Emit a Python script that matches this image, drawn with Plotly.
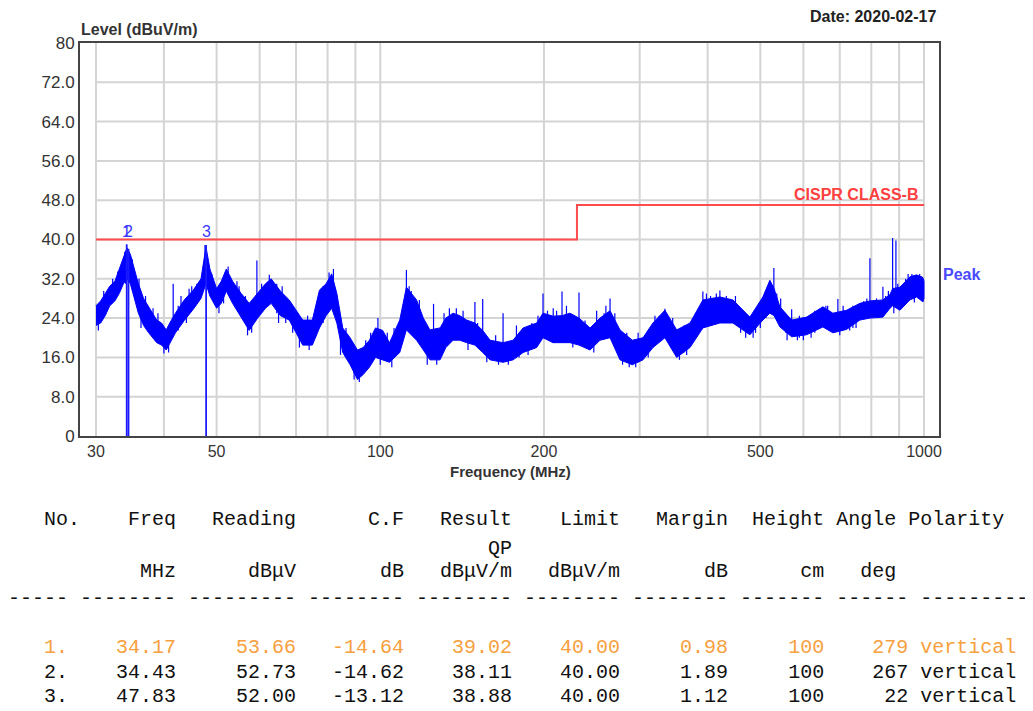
import numpy as np
import plotly.graph_objects as go

# ---------------- data ----------------
# noisy Peak trace: frequency (MHz) with lower / upper edge of the band (dBuV/m)
freq = [30.0, 30.6, 31.2, 31.8, 32.5, 33.1, 33.7, 34.2, 34.7, 35.3, 35.9, 36.7, 37.5, 38.8, 39.6,
        40.4, 41.0, 42.0, 43.6, 45.3, 46.8, 47.8, 48.6, 50.0, 51.0, 52.1, 53.5, 55.5, 57.4, 59.5,
        61.5, 63.0, 65.5, 68.0, 70.0, 72.0, 75.0, 77.3, 79.5, 81.4, 83.2, 85.3, 88.0, 90.8, 93.0,
        95.5, 98.0, 101.0, 104.0, 108.6, 111.7, 116.6, 120.0, 123.4, 128.8, 132.0, 136.1, 140.0,
        144.2, 149.3, 154.3, 159.2, 168.2, 175.5, 183.1, 193.9, 199.2, 207.8, 215.9, 223.3, 232.0,
        243.1, 253.6, 264.6, 276.0, 290.8, 304.2, 317.3, 333.8, 350.9, 371.2, 392.1, 421.3, 445.1,
        478.4, 505.4, 520.6, 530.0, 543.2, 571.0, 608.2, 651.7, 679.9, 720.5, 762.3, 795.3, 840.3,
        865.7, 875.6, 903.1, 942.1, 969.3, 995.7, 1000.0]
peak_lo = [22.5, 23.0, 24.5, 26.5, 27.5, 29.0, 31.0, 32.0, 31.0, 28.0, 25.0, 22.5, 21.0, 19.0, 18.5,
           17.5, 19.0, 21.0, 23.5, 25.8, 28.0, 31.0, 28.5, 26.0, 27.0, 29.5, 27.0, 24.0, 21.5, 24.0,
           26.0, 27.0, 24.5, 23.6, 21.0, 18.5, 18.5, 22.0, 24.5, 26.0, 23.0, 17.0, 14.5, 11.5, 12.5,
           14.0, 16.0, 15.5, 15.0, 17.0, 21.6, 19.5, 17.5, 15.5, 15.5, 18.0, 19.5, 19.5,
           19.0, 18.5, 17.0, 15.5, 15.0, 15.5, 17.0, 18.0, 20.0, 19.0, 19.0, 19.0, 18.5,
           17.5, 19.5, 20.0, 15.5, 14.5, 15.5, 18.0, 20.0, 16.0, 18.0, 22.0, 23.0, 23.0,
           20.6, 23.6, 25.0, 24.5, 22.2, 20.2, 20.6, 22.2, 21.0, 21.7, 23.6, 24.0, 24.2,
           26.0, 26.5, 25.6, 27.7, 28.3, 27.3, 28.0]
peak_hi = [26.5, 27.5, 29.0, 30.5, 31.5, 34.0, 36.0, 38.3, 37.0, 34.0, 31.0, 28.0, 26.3, 23.6, 23.0,
           21.6, 23.0, 25.0, 27.7, 29.7, 32.0, 38.5, 34.0, 30.0, 31.5, 34.0, 31.5, 29.0, 27.0, 29.0,
           31.0, 32.0, 29.5, 27.7, 25.5, 23.6, 23.6, 29.7, 31.0, 33.0, 29.0, 22.0, 20.0, 17.5, 18.0,
           19.5, 22.0, 21.5, 19.0, 23.6, 30.3, 27.7, 24.0, 21.6, 22.0, 24.0, 25.0, 24.5,
           23.6, 23.0, 21.5, 19.5, 19.0, 19.5, 22.0, 23.0, 25.0, 24.4, 24.5, 25.0, 24.0,
           22.0, 24.0, 25.5, 21.6, 19.5, 20.0, 23.0, 25.6, 21.6, 23.0, 27.7, 28.3, 27.7,
           24.2, 28.3, 31.7, 30.0, 26.3, 23.6, 24.2, 26.3, 25.0, 25.6, 27.0, 27.5, 27.7,
           28.8, 30.0, 30.3, 32.4, 32.8, 32.2, 31.5]

# isolated spikes of the Peak trace (up and down): frequency, one end and other end (dBuV/m)
spike_freq = [31.0, 32.9, 33.9, 35.0, 36.0, 37.0, 38.2, 39.0, 41.6, 43.0, 44.5, 46.0, 47.6, 49.0,
              52.5, 54.5, 56.5, 59.3, 62.5, 64.5, 67.0, 73.5, 78.5, 80.5, 86.5, 96.0, 99.0, 103.0,
              106.0, 111.7, 114.0, 118.0, 125.3, 134.0, 142.0, 149.3, 154.3, 163.0, 168.2, 180.0,
              190.0, 199.2, 203.0, 211.0, 215.9, 220.0, 232.0, 238.0, 258.0, 264.6, 270.0, 284.0,
              298.0, 311.0, 326.0, 333.8, 342.0, 362.0, 380.0, 392.0, 405.0, 421.3, 433.0, 460.0,
              490.0, 512.0, 529.5, 536.0, 557.0, 571.0, 590.0, 630.0, 665.0, 694.4, 740.0, 775.0,
              795.3, 818.0, 840.3, 860.0, 875.6, 887.9, 910.0, 925.0, 950.0, 977.0, 990.0,
              30.3, 36.3, 40.0, 40.8, 44.0, 50.5, 57.0, 58.0, 65.0, 69.0, 71.0, 74.0, 84.5, 89.5,
              91.5, 100.0, 105.0, 122.0, 127.0, 145.0, 157.0, 165.0, 172.0, 187.0, 226.0, 247.0,
              279.0, 287.0, 295.0, 340.0, 355.0, 366.0, 470.0, 485.0, 560.0, 585.0, 600.0, 620.0,
              700.0, 730.0, 880.0, 960.0,
              32.2, 34.0, 38.0, 42.5, 45.0, 51.5, 55.0, 60.5, 66.0, 76.0, 82.0, 94.0, 109.5,
              113.0, 131.0, 138.0, 151.0, 178.0, 195.0, 208.0, 250.0, 260.0, 320.0, 345.0,
              398.0, 415.0, 450.0, 500.0, 517.0, 545.0, 620.0, 660.0, 710.0, 750.0, 785.0,
              850.0, 895.0, 935.0, 982.0]
spike_base = [26, 29, 33, 30, 26, 23, 21, 20, 21, 23, 25, 27, 32, 29,
              30, 26, 23, 24, 27, 25, 23, 19, 23, 26, 16, 15, 17, 16,
              16, 24, 22, 19, 17, 20, 20, 19, 18, 16, 16, 16,
              18, 21, 20, 20, 20, 20, 19, 18, 20, 21, 20, 15,
              15, 16, 20, 21, 18, 17, 20, 23, 23, 24, 23, 21,
              21, 24, 25, 24, 21, 21, 20, 21, 22, 22, 22, 24,
              24.5, 24.5, 25, 26, 27, 27, 26, 27.5, 28, 28, 28,
              21.5, 22, 16.8, 17, 23, 25, 20.5, 21, 23, 21, 18, 17.5, 16.5, 11.5,
              11, 14.5, 14, 14.5, 14.5, 17.5, 15, 14.5, 14.5, 16.5, 18, 17,
              14.5, 14, 14, 19, 15.5, 16.5, 20, 20, 19.5, 19.5, 19.5, 20,
              20.5, 21.5, 25, 27.2,
              28, 31, 20.5, 21.5, 26, 27, 26, 26, 26, 20, 28, 16, 19,
              24, 20.5, 21, 19, 18, 20, 22, 21, 22, 20, 20,
              24, 24, 24, 22, 25, 23, 21, 22, 22, 22, 24,
              25.5, 27, 28.5, 28.5]
spike_top = [29.5, 33.5, 37.5, 36, 32, 28.5, 26, 25, 31, 28.5, 30, 31, 38.9, 33,
             34.5, 31.5, 28.5, 35.7, 32.8, 31, 28, 24.5, 30.5, 33.3, 22, 21, 24, 21,
             22, 33.8, 29.5, 27.7, 26.9, 26, 25.5, 27.3, 27.9, 20.5, 25, 21,
             23, 29, 25.5, 25.5, 29.4, 26.5, 29.2, 23.5, 25, 28, 25, 21,
             21, 21.5, 24.5, 25.9, 22.5, 22.5, 25, 29.4, 28.5, 29.6, 28.5, 25.5,
             25.5, 29.5, 34.2, 29, 24.5, 25.8, 24.5, 25.5, 26.5, 27.9, 26.5, 27.5,
             36.2, 28, 30.4, 29.5, 40.3, 39.8, 30.5, 32, 33, 32.5, 32.5,
             25, 26, 20, 21, 26, 28, 25, 25, 27, 25, 22, 21, 22, 16,
             15, 19, 18, 19, 19, 21, 18, 18, 18, 20, 22, 21,
             19, 18, 18, 23, 19, 20, 23, 23, 22.5, 22.5, 22.5, 23,
             23, 24, 28, 30,
             32, 37, 24.5, 26.5, 30.5, 32, 30.5, 31, 30.5, 25, 34, 19.5, 25,
             30.5, 25, 26, 23, 22.5, 24.5, 26, 25.5, 26.5, 24.5, 24,
             29, 29, 28.5, 26.5, 30.5, 28, 24.5, 26.5, 26.5, 26, 28,
             28.5, 31, 33, 33]

# CISPR class B limit
limit_freq = [30, 230, 230, 1000]
limit_level = [40, 40, 47, 47]

# axes
y_ticks = [0, 8, 16, 24, 32, 40, 48, 56, 64, 72, 80]
y_tick_text = ["0", "8.0", "16.0", "24.0", "32.0", "40.0", "48.0", "56.0", "64.0", "72.0", "80"]
x_ticks = [30, 50, 100, 200, 500, 1000]
x_tick_text = ["30", "50", "100", "200", "500", "1000"]
x_grid = [30, 40, 50, 60, 70, 80, 90, 100, 200, 300, 400, 500, 600, 700, 800, 900, 1000]
y_grid = [8, 16, 24, 32, 40, 48, 56, 64, 72]

# marker table
mk_no = [1, 2, 3]
mk_freq = [34.17, 34.43, 47.83]
mk_reading = [53.66, 52.73, 52.00]
mk_cf = [-14.64, -14.62, -13.12]
mk_result = [39.02, 38.11, 38.88]
mk_limit = [40.00, 40.00, 40.00]
mk_margin = [0.98, 1.89, 1.12]
mk_height = [100, 100, 100]
mk_angle = [279, 267, 22]
mk_pol = ["vertical", "vertical", "vertical"]

# ---------------- figure ----------------
OFF = 8                                # page body margin of the html
W, H = 1033 - OFF, 711 - OFF
L, R, T, B = 80, 939, 43, 436          # plot box in window pixels
X_RANGE = [np.log10(30) - 0.0294, 3 + 0.0276]


def px(xp):
    return (xp - L) / (R - L)


def py(yp):
    return (B - yp) / (B - T)


fig = go.Figure()

# grid
gx, gy = [], []
for f in x_grid:
    gx += [f, f, None]
    gy += [0, 80, None]
for v in y_grid:
    gx += [x_grid[0], x_grid[-1], None]
    gy += [v, v, None]
fig.add_trace(go.Scatter(x=gx, y=gy, mode="lines", line=dict(color="#d4d4d4", width=2),
                         hoverinfo="skip", showlegend=False))

# limit line
fig.add_trace(go.Scatter(x=limit_freq, y=limit_level, mode="lines",
                         line=dict(color="#ff4b4b", width=2), showlegend=False))

# peak band
fig.add_trace(go.Scatter(x=freq + freq[::-1], y=peak_hi + peak_lo[::-1], mode="lines",
                         fill="toself", fillcolor="#0000ff",
                         line=dict(color="#0000ff", width=1), showlegend=False))
sx, sy = [], []
for f, b0, t0 in zip(spike_freq, spike_base, spike_top):
    sx += [f, f, None]
    sy += [b0, t0, None]
fig.add_trace(go.Scatter(x=sx, y=sy, mode="lines", line=dict(color="#0000ff", width=1.2),
                         showlegend=False))

# marker lines
mx, my = [], []
for f, r in zip(mk_freq, mk_result):
    mx += [f, f, None]
    my += [0, r, None]
fig.add_trace(go.Scatter(x=mx, y=my, mode="lines", line=dict(color="#1a1aff", width=1.8),
                         showlegend=False))

ann = []
for n, f in zip(mk_no, mk_freq):
    ann.append(dict(x=np.log10(f), y=41.6, xref="x", yref="y", text=str(n), showarrow=False,
                    font=dict(family="Liberation Sans", size=16, color="#3a3aff"),
                    xanchor="center", yanchor="middle"))

BOLD = "Liberation Sans"
ann += [
    dict(x=px(79), y=py(30), text="<b>Level (dBuV/m)</b>", xanchor="left", yanchor="middle",
         font=dict(family=BOLD, size=16, color="#333333")),
    dict(x=px(938), y=py(17), text="<b>Date: 2020-02-17</b>", xanchor="right", yanchor="middle",
         font=dict(family=BOLD, size=16, color="#222222")),
    dict(x=px(510), y=py(471), text="<b>Frequency (MHz)</b>", xanchor="center", yanchor="middle",
         font=dict(family=BOLD, size=15, color="#333333")),
    dict(x=px(920), y=py(194), text="<b>CISPR CLASS-B</b>", xanchor="right", yanchor="middle",
         font=dict(family=BOLD, size=16, color="#ff4040")),
    dict(x=px(941), y=py(274), text="<b>Peak</b>", xanchor="left", yanchor="middle",
         font=dict(family=BOLD, size=16, color="#4a4aff")),
]


# monospace table
NCOL = 85


def put(buf, text, end=None, start=None):
    if start is None:
        start = end - len(text) + 1
    for i, ch in enumerate(text):
        if 0 <= start + i < NCOL:
            buf[start + i] = ch


def new():
    return [" "] * NCOL


lines = []
h = new()
put(h, "No.", start=3); put(h, "Freq", end=13); put(h, "Reading", end=23); put(h, "C.F", end=32)
put(h, "Result", end=41); put(h, "Limit", end=50); put(h, "Margin", end=59); put(h, "Height", end=67)
put(h, "Angle", start=69); put(h, "Polarity", start=75)
lines.append((h, 520, "#111111"))
q = new(); put(q, "QP", end=41)
lines.append((q, 548, "#111111"))
u = new()
put(u, "MHz", end=13); put(u, "dBμV", end=23); put(u, "dB", end=32); put(u, "dBμV/m", end=41)
put(u, "dBμV/m", end=50); put(u, "dB", end=59); put(u, "cm", end=67); put(u, "deg", end=73)
lines.append((u, 571, "#111111"))
d = new()
for s0, n in [(0, 5), (6, 8), (15, 9), (25, 8), (34, 8), (43, 8), (52, 8), (61, 7), (69, 6), (76, 9)]:
    put(d, "-" * n, start=s0)
lines.append((d, 598, "#111111"))
row_y = [647, 672, 696]
row_c = ["#f7a040", "#111111", "#111111"]
for i in range(3):
    r = new()
    put(r, f"{mk_no[i]}.", start=3)
    put(r, f"{mk_freq[i]:.2f}", end=13)
    put(r, f"{mk_reading[i]:.2f}", end=23)
    put(r, f"{mk_cf[i]:.2f}", end=32)
    put(r, f"{mk_result[i]:.2f}", end=41)
    put(r, f"{mk_limit[i]:.2f}", end=50)
    put(r, f"{mk_margin[i]:.2f}", end=59)
    put(r, f"{mk_height[i]}", end=67)
    put(r, f"{mk_angle[i]}", end=74)
    put(r, mk_pol[i], start=76)
    lines.append((r, row_y[i], row_c[i]))

for buf, yy, col in lines:
    txt = "".join(buf).rstrip().replace(" ", "\u00a0")
    ann.append(dict(x=px(6), y=py(yy), text=txt, xanchor="left", yanchor="middle",
                    font=dict(family="Liberation Mono", size=20, color=col)))

for a in ann:
    a.setdefault("xref", "paper")
    a.setdefault("yref", "paper")
    a.setdefault("showarrow", False)

fig.update_layout(
    width=W, height=H,
    margin=dict(l=L - OFF, r=W - (R - OFF), t=T - OFF, b=H - (B - OFF)),
    paper_bgcolor="white", plot_bgcolor="white",
    annotations=ann,
    xaxis=dict(type="log", range=X_RANGE, showgrid=False, zeroline=False,
               tickmode="array", tickvals=x_ticks, ticktext=x_tick_text, ticks="",
               showline=True, mirror=True, linecolor="#444444", linewidth=2,
               tickfont=dict(family=BOLD, size=16, color="#333333")),
    yaxis=dict(range=[0, 80], showgrid=False, zeroline=False,
               tickmode="array", tickvals=y_ticks, ticktext=y_tick_text, ticks="",
               showline=True, mirror=True, linecolor="#444444", linewidth=2,
               tickfont=dict(family=BOLD, size=17, color="#333333")),
    font=dict(family=BOLD),
)
fig.update_xaxes(tickprefix="<b>", ticksuffix="</b>")
fig.update_yaxes(tickprefix="<b>", ticksuffix="</b>")

fig.write_html("out.html")
